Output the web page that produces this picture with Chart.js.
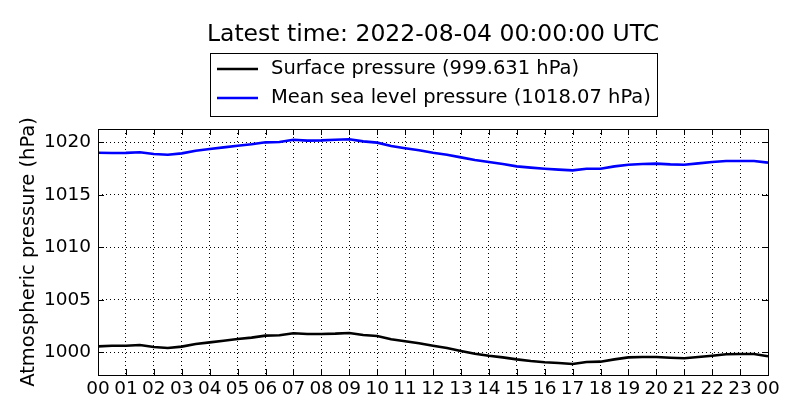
<!DOCTYPE html>
<html>
<head>
<meta charset="UTF-8">
<script src="https://cdn.jsdelivr.net/npm/chart.js@4"></script>
<style>
  html, body { margin: 0; padding: 0; background: #fff; }
  #wrap { width: 800px; height: 420px; }
</style>
</head>
<body>
<div id="wrap"><canvas id="cvs" width="800" height="420"></canvas></div>
<script>
const titleText = 'Latest time: 2022-08-04 00:00:00 UTC';
const yTitle = 'Atmospheric pressure (hPa)';
const seriesLabels = ['Surface pressure (999.631 hPa)', 'Mean sea level pressure (1018.07 hPa)'];

// hours since 00 UTC, half-hour steps
const hours = [0,0.5,1,1.5,2,2.5,3,3.5,4,4.5,5,5.5,6,6.5,7,7.5,8,8.5,9,9.5,10,10.5,11,11.5,
  12,12.5,13,13.5,14,14.5,15,15.5,16,16.5,17,17.5,18,18.5,19,19.5,20,20.5,21,21.5,22,22.5,23,23.5,24];

const surface = [1000.57,1000.63,1000.63,1000.70,1000.51,1000.41,1000.54,1000.79,1000.95,1001.11,
  1001.27,1001.40,1001.59,1001.62,1001.81,1001.75,1001.75,1001.78,1001.84,1001.65,
  1001.56,1001.24,1001.05,1000.86,1000.62,1000.41,1000.13,999.87,999.68,999.52,
  999.33,999.17,999.05,998.98,998.89,999.08,999.11,999.33,999.52,999.56,
  999.56,999.49,999.43,999.56,999.68,999.81,999.84,999.84,999.63];

const msl = [1019.01,1018.98,1019.00,1019.06,1018.89,1018.82,1018.95,1019.20,1019.36,1019.52,
  1019.68,1019.81,1020.00,1020.03,1020.25,1020.16,1020.19,1020.25,1020.29,1020.09,
  1019.97,1019.65,1019.43,1019.24,1019.01,1018.82,1018.57,1018.31,1018.12,1017.93,
  1017.71,1017.59,1017.49,1017.40,1017.33,1017.49,1017.49,1017.71,1017.87,1017.93,
  1017.97,1017.90,1017.87,1018.00,1018.12,1018.22,1018.22,1018.22,1018.07];

const xTicks = [0,1,2,3,4,5,6,7,8,9,10,11,12,13,14,15,16,17,18,19,20,21,22,23,24];
const yTicks = [1000,1005,1010,1015,1020];

const FONT = 'DejaVu Sans';
const colors = ['#000000', '#0000ff'];

// 제목, 범례, 안쪽 눈금, 테두리
const decor = {
  id: 'decor',
  afterDraw(chart) {
    const { ctx, chartArea: a, scales: { x, y } } = chart;
    ctx.save();
    ctx.strokeStyle = '#000';
    ctx.lineWidth = 1;
    ctx.beginPath();
    xTicks.forEach(v => {
      const px = Math.round(x.getPixelForValue(v)) + 0.5;
      ctx.moveTo(px, a.bottom); ctx.lineTo(px, a.bottom - 6);
      ctx.moveTo(px, a.top); ctx.lineTo(px, a.top + 6);
    });
    yTicks.forEach(v => {
      const py = Math.round(y.getPixelForValue(v)) + 0.5;
      ctx.moveTo(a.left, py); ctx.lineTo(a.left + 6, py);
      ctx.moveTo(a.right, py); ctx.lineTo(a.right - 6, py);
    });
    ctx.stroke();
    ctx.strokeRect(Math.round(a.left) + 0.5, Math.round(a.top) + 0.5,
      Math.round(a.right - a.left), Math.round(a.bottom - a.top));

    ctx.fillStyle = '#000';
    ctx.font = `23.5px "${FONT}"`;
    ctx.textAlign = 'center';
    ctx.textBaseline = 'middle';
    ctx.fillText(titleText, (a.left + a.right) / 2, 35);

    ctx.font = `19.5px "${FONT}"`;
    ctx.save();
    ctx.translate(29, (a.top + a.bottom) / 2);
    ctx.rotate(-Math.PI / 2);
    ctx.fillText(yTitle, 0, 0);
    ctx.restore();

    // 범례 상자
    ctx.fillStyle = '#fff';
    ctx.fillRect(210, 53, 447, 63);
    ctx.strokeRect(210.5, 53.5, 447, 63);
    ctx.textAlign = 'left';
    seriesLabels.forEach((lab, i) => {
      const ly = 69 + i * 29;
      ctx.strokeStyle = colors[i];
      ctx.lineWidth = 2.5;
      ctx.beginPath();
      ctx.moveTo(217, ly); ctx.lineTo(258, ly);
      ctx.stroke();
      ctx.fillStyle = '#000';
      ctx.fillText(lab, 271, ly);
    });
    ctx.restore();
  }
};

new Chart(document.getElementById('cvs').getContext('2d'), {
  type: 'line',
  data: {
    datasets: [
      { label: seriesLabels[0], data: hours.map((h, i) => ({ x: h, y: surface[i] })),
        borderColor: colors[0], borderWidth: 2.6, pointRadius: 0, tension: 0 },
      { label: seriesLabels[1], data: hours.map((h, i) => ({ x: h, y: msl[i] })),
        borderColor: colors[1], borderWidth: 2.6, pointRadius: 0, tension: 0 }
    ]
  },
  options: {
    responsive: false,
    animation: false,
    layout: { padding: { left: 0, right: 32, top: 129, bottom: 0 } },
    plugins: { legend: { display: false }, title: { display: false }, tooltip: { enabled: false } },
    scales: {
      x: {
        type: 'linear', min: 0, max: 24,
        afterBuildTicks: s => { s.ticks = xTicks.map(v => ({ value: v })); },
        afterFit: s => { s.height = 45; },
        grid: { color: '#000', lineWidth: 1, drawTicks: false },
        border: { display: false, dash: [1, 3] },
        ticks: { color: '#000', padding: 3, maxRotation: 0, autoSkip: false,
          font: { family: FONT, size: 18.5 },
          callback: v => String(v % 24).padStart(2, '0') }
      },
      y: {
        type: 'linear', min: 997.84, max: 1021.27,
        afterBuildTicks: s => { s.ticks = yTicks.map(v => ({ value: v })); },
        afterFit: s => { s.width = 98; },
        grid: { color: '#000', lineWidth: 1, drawTicks: false },
        border: { display: false, dash: [1, 3] },
        ticks: { color: '#000', padding: 7, font: { family: FONT, size: 18.5 },
          callback: v => String(v) }
      }
    }
  },
  plugins: [decor]
});
</script>
</body>
</html>
